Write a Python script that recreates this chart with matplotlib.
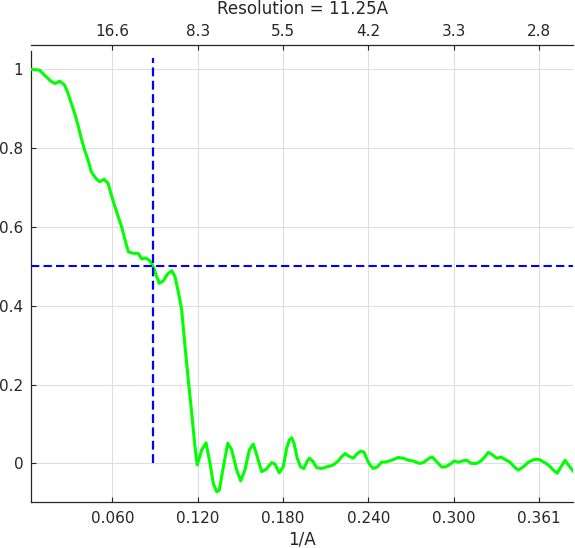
import matplotlib
matplotlib.use("Agg")
import matplotlib.pyplot as plt

# ---- data ----
freq = [0.0031, 0.0090, 0.0125, 0.0172, 0.0200, 0.0231, 0.0266, 0.0290, 0.0313, 0.0337,
        0.0360, 0.0383, 0.0407, 0.0431, 0.0454, 0.0489, 0.0513, 0.0544, 0.0572, 0.0596,
        0.0621, 0.0644, 0.0668, 0.0692, 0.0715, 0.0750, 0.0785, 0.0809, 0.0840, 0.0868,
        0.0891, 0.0915, 0.0933, 0.0962, 0.0990, 0.1021, 0.1044, 0.1067, 0.1091, 0.1115,
        0.1138, 0.1162, 0.1185, 0.1201, 0.1232, 0.1263, 0.1291, 0.1314, 0.1338, 0.1356,
        0.1385, 0.1416, 0.1444, 0.1479, 0.1507, 0.1537, 0.1568, 0.1596, 0.1624, 0.1655,
        0.1686, 0.1726, 0.1749, 0.1779, 0.1807, 0.1831, 0.1850, 0.1867, 0.1883, 0.1906,
        0.1930, 0.1953, 0.1977, 0.1991, 0.2015, 0.2043, 0.2078, 0.2113, 0.2160, 0.2195,
        0.2219, 0.2243, 0.2266, 0.2301, 0.2329, 0.2353, 0.2376, 0.2400, 0.2419, 0.2442,
        0.2470, 0.2501, 0.2536, 0.2572, 0.2618, 0.2654, 0.2689, 0.2724, 0.2766, 0.2795,
        0.2835, 0.2858, 0.2889, 0.2924, 0.2952, 0.2983, 0.3013, 0.3041, 0.3069, 0.3100,
        0.3131, 0.3171, 0.3201, 0.3229, 0.3253, 0.3277, 0.3312, 0.3342, 0.3370, 0.3406,
        0.3436, 0.3464, 0.3499, 0.3535, 0.3577, 0.3610, 0.3641, 0.3676, 0.3711, 0.3739,
        0.3765, 0.3794, 0.3817, 0.3852]
fsc = [1.000, 0.998, 0.985, 0.969, 0.964, 0.970, 0.960, 0.939, 0.914, 0.888,
       0.859, 0.825, 0.795, 0.770, 0.740, 0.722, 0.715, 0.721, 0.711, 0.680,
       0.651, 0.626, 0.600, 0.567, 0.537, 0.533, 0.533, 0.519, 0.521, 0.514,
       0.499, 0.474, 0.457, 0.463, 0.480, 0.489, 0.474, 0.436, 0.390, 0.296,
       0.211, 0.127, 0.042, -0.004, 0.034, 0.052, 0.000, -0.051, -0.072, -0.068,
       -0.009, 0.051, 0.034, -0.017, -0.044, -0.017, 0.034, 0.049, 0.017, -0.021,
       -0.015, 0.002, -0.002, -0.024, -0.009, 0.038, 0.059, 0.065, 0.051, 0.013,
       -0.009, -0.013, 0.006, 0.013, 0.006, -0.011, -0.013, -0.009, -0.004, 0.006,
       0.017, 0.025, 0.019, 0.013, 0.025, 0.031, 0.029, 0.008, -0.004, -0.013,
       -0.009, 0.003, 0.004, 0.008, 0.015, 0.013, 0.008, 0.006, 0.000, 0.002,
       0.013, 0.016, 0.004, -0.009, -0.009, -0.002, 0.006, 0.003, 0.006, 0.008,
       0.000, 0.000, 0.006, 0.017, 0.028, 0.023, 0.013, 0.016, 0.010, 0.003,
       -0.009, -0.017, -0.009, 0.003, 0.010, 0.010, 0.004, -0.004, -0.017, -0.025,
       -0.009, 0.008, -0.004, -0.020]

threshold = 0.5
resolution = 11.25          # Angstrom
vline_top = 1.03

bottom_ticks = [0.0602, 0.1204, 0.1806, 0.2408, 0.3010, 0.3612]
bottom_labels = ["0.060", "0.120", "0.180", "0.240", "0.300", "0.361"]
top_labels = ["16.6", "8.3", "5.5", "4.2", "3.3", "2.8"]
y_ticks = [0, 0.2, 0.4, 0.6, 0.8, 1.0]
y_labels = ["0", "0.2", "0.4", "0.6", "0.8", "1"]

title_text = "Resolution = 11.25A"
xlabel_text = "1/A"

# ---- style ----
TXT = "#262626"
plt.rcParams["font.family"] = ["DejaVu Sans"]

W, H = 575, 548
fig = plt.figure(figsize=(W / 100, H / 100), dpi=100)
left_px, right_px, top_px, bot_px = 31.0, 573.3, 45.3, 502.0
ax = fig.add_axes([left_px / W, 1 - bot_px / H, (right_px - left_px) / W, (bot_px - top_px) / H])

ax.set_xlim(0.0029, 0.3852)
ax.set_ylim(-0.098, 1.061)

ax.grid(True, color="#dedede", lw=0.8)
ax.set_axisbelow(True)

ax.plot(freq, fsc, color="#00ff00", lw=2.2, zorder=3)
ax.axhline(threshold, color="#0000ff", lw=1.5, linestyle=(0, (4, 2)), zorder=4)
ax.vlines(1.0 / resolution, 0, vline_top, color="#0000ff", lw=1.6,
          linestyle=(0, (4, 2)), zorder=4)

ax.set_xticks(bottom_ticks)
ax.set_xticklabels(bottom_labels)
ax.set_yticks(y_ticks)
ax.set_yticklabels(y_labels)
ax.tick_params(axis="x", direction="in", length=3.3, width=0.8, color=TXT,
               labelsize=11, labelcolor=TXT, pad=6.5)
ax.tick_params(axis="y", direction="in", length=3.3, width=0.8, color=TXT,
               labelsize=11, labelcolor=TXT, pad=5.5)

for s in ["left", "bottom", "top"]:
    ax.spines[s].set_color(TXT)
    ax.spines[s].set_linewidth(0.9)
ax.spines["right"].set_visible(False)
ax.spines["left"].set_bounds(-0.098, 1.046)

ax.set_xlabel(xlabel_text, fontsize=12.1, color=TXT, labelpad=3)

ax2 = ax.twiny()
ax2.set_xlim(ax.get_xlim())
ax2.set_xticks(bottom_ticks)
ax2.set_xticklabels(top_labels)
ax2.tick_params(axis="x", direction="in", length=3.3, width=0.8, color=TXT,
                labelsize=11, labelcolor=TXT, pad=4.5)
for s in ax2.spines.values():
    s.set_visible(False)

fig.text((left_px + right_px) / 2 / W, 1 - 14 / H, title_text, ha="center",
         va="baseline", fontsize=12.1, color=TXT)

fig.savefig("out.png", dpi=100)
